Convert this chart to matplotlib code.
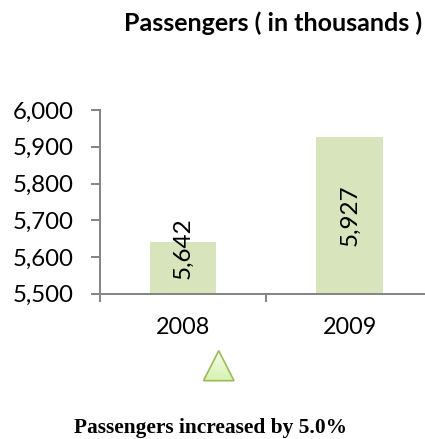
#!/usr/bin/env python3

import matplotlib
matplotlib.use('Agg')
import matplotlib.pyplot as plt
import numpy as np
from matplotlib.patches import Polygon

years = ['2008', '2009']
passengers = [5642, 5927]
yticks = [5500, 5600, 5700, 5800, 5900, 6000]
# label centres do not follow the bar middles in the reference
label_centres = [5624, 5713]

W, H = 425, 439
AXIS_GREY = '#868686'
plt.rcParams['font.family'] = ['Lato', 'DejaVu Sans']

# the small extra keeps the height from rounding down to 438
fig = plt.figure(figsize=((W+0.01)/100, (H+0.01)/100), dpi=100)

# axes box taken from the pixel positions in the reference, runs off the right edge
ax = fig.add_axes([99.6/W, 1-293.8/H, 333.4/W, 183.8/H])
ax.bar([0, 1], passengers, width=0.4, color='#d8e4bc')
ax.set_xlim(-0.5, 1.5)
ax.set_ylim(5500, 6000)

for s in ['top', 'right']:
    ax.spines[s].set_visible(False)
for s in ['left', 'bottom']:
    ax.spines[s].set_color(AXIS_GREY)
    ax.spines[s].set_linewidth(1.44)
    ax.spines[s].set_zorder(5)

# ticks sit between the categories, labels in the middle of them
ax.set_xticks([-0.5, 0.5, 1.5])
ax.set_xticklabels(['', '', ''])
ax.set_xticks([0, 1], minor=True)
ax.set_xticklabels(years, minor=True, fontsize=16.8)
ax.tick_params(axis='x', which='major', color=AXIS_GREY, width=1.44, length=6)
ax.tick_params(axis='x', which='minor', length=0, pad=17)

ax.set_yticks(yticks)
ax.set_yticklabels([f'{v:,}' for v in yticks], fontsize=17.3)
ax.tick_params(axis='y', color=AXIS_GREY, width=1.44, length=6.5, pad=12)

for i, v in enumerate(passengers):
    ax.text(i, label_centres[i], f'{v:,}', rotation=90, ha='center', va='center',
            fontsize=17.5, color='black')

fig.text(273.5/W, 1-23/H, 'Passengers ( in thousands )', ha='center', va='center',
         fontsize=18, fontweight='bold')

# little triangle below the axis, gradient clipped to its outline
tri_ax = fig.add_axes([0, 0, 1, 1], facecolor='none')
tri_ax.set_xlim(0, W)
tri_ax.set_ylim(H, 0)
tri_ax.axis('off')
grad = np.linspace(0, 1, 64).reshape(-1, 1)
cmap = matplotlib.colors.LinearSegmentedColormap.from_list('tri', ['#f7fcec', '#d6f2ae'])
img = tri_ax.imshow(grad, extent=[203, 234, 381, 351], cmap=cmap, aspect='auto')
tri = Polygon([[203.5, 380.7], [218.7, 350.7], [234, 380.7]], closed=True,
              facecolor='none', edgecolor='#9bbb59', linewidth=1.2, joinstyle='miter')
tri_ax.add_patch(tri)
img.set_clip_path(tri)
tri_ax.set_xlim(0, W)
tri_ax.set_ylim(H, 0)

fig.text(210.7/W, 1-428/H, 'Passengers increased by 5.0%', ha='center', va='center',
         fontsize=15.4, fontweight='bold', family='Liberation Serif')

fig.savefig('out.png', dpi=100)
